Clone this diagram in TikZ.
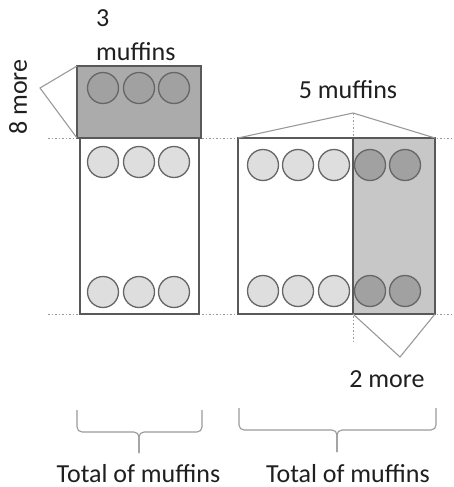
\documentclass[tikz,border=0pt]{standalone}
\usepackage{fontspec}
\setmainfont{Carlito}
\begin{document}
\begin{tikzpicture}[x=1pt,y=-1pt,
  lbl/.style={font=\fontsize{26}{30}\selectfont, text=black!88, inner sep=0pt, anchor=base},
  bar/.style={draw=black!65, line width=1.4pt},
  guide/.style={draw=black!40, line width=1pt, dash pattern=on 1.5pt off 2pt},
  bracket/.style={draw=black!40, line width=1.1pt},
  muffin/.style={circle, draw=black!60, line width=1.3pt, minimum size=31pt, inner sep=0pt},
  plain/.style={muffin, fill=black!13},
  extra/.style={muffin, fill=black!37},
  bracebar/.style={draw=black!40, line width=1.1pt, rounded corners=5pt}
]
\useasboundingbox (0,0) rectangle (454,487);

% dotted guide lines
\draw[guide] (48,138) -- (454,138);
\draw[guide] (48,314) -- (454,314);
\draw[guide] (353,113) -- (353,343);

% left bar: 3 extra muffins on top
\fill[black!33] (77,66) rectangle (201,138);
\draw[bar] (77,66) rectangle (201,138);
\draw[bar] (80,138) rectangle (199,314);
\foreach \x [count=\i] in {103,139,174} {
  \node[extra] (lt\i) at (\x,88) {};
  \node[plain] (lm\i) at (\x,162) {};
  \node[plain] (lb\i) at (\x,292) {};
}

% right bar: 2 extra muffins at the side
\draw[bar] (238,138) rectangle (353,314);
\fill[black!22] (353,138) rectangle (435,314);
\draw[bar] (353,138) rectangle (435,314);
\foreach \x [count=\i] in {263,298,334} {
  \node[plain] (rt\i) at (\x,165) {};
  \node[plain] (rb\i) at (\x,291) {};
}
\foreach \x [count=\i] in {370,405} {
  \node[extra] (rx\i) at (\x,165) {};
  \node[extra] (ry\i) at (\x,291) {};
}

% angled pointers
\coordinate (ltop) at (77,66);
\coordinate (lbot) at (77,138);
\coordinate (ltip) at (40,88);
\draw[bracket] (ltop) -- (ltip) -- (lbot);
\coordinate (rl) at (238,138);
\coordinate (rr) at (435,138);
\coordinate (rtip) at (353,113);
\draw[bracket] (rl) -- (rtip) -- (rr);
\coordinate (bl) at (353,314);
\coordinate (br) at (435,314);
\coordinate (btip) at (400,357);
\draw[bracket] (bl) -- (btip) -- (br);

% labels
\node[lbl, anchor=base west] (three) at (96,27) {3};
\node[lbl, anchor=base west] (muf) at (96,60) {muffins};
\node[lbl, rotate=90] (eight) at (27,97) {8 more};
\node[lbl] (five) at (348,99) {5 muffins};
\node[lbl] (two) at (387,387) {2 more};

% braces under the bars
\draw[bracebar] (77,410) -- (77,432) -- (139,432) -- (139,453);
\draw[bracebar] (139,453) -- (139,432) -- (202,432) -- (202,410);
\draw[bracebar] (239,408) -- (239,430) -- (337,430) -- (337,452);
\draw[bracebar] (337,452) -- (337,430) -- (436,430) -- (436,408);
\node[lbl] (totl) at (138.5,482) {Total of muffins};
\node[lbl] (totr) at (348,482) {Total of muffins};
\end{tikzpicture}
\end{document}
